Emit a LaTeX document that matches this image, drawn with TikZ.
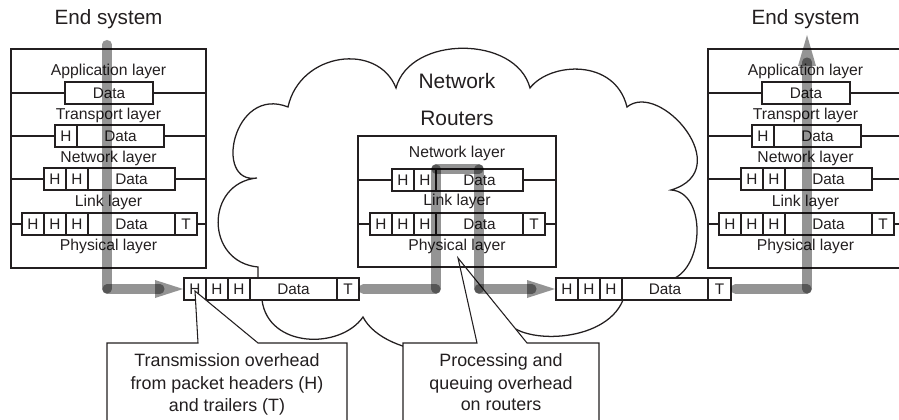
\documentclass[tikz,border=0pt]{standalone}
\usepackage{fontspec}
\setmainfont{Liberation Sans}
\definecolor{ink}{RGB}{35,31,32}
\tikzset{
  frame/.style={draw=ink, line width=1.5pt},
  pbox/.style={draw=ink, fill=white, line width=1.4pt},
  celltxt/.style={font=\fontsize{11.5}{13}\selectfont, text=ink, anchor=base, inner sep=0pt},
  laytxt/.style={font=\fontsize{11.8}{14}\selectfont, text=ink, anchor=base, inner sep=0pt},
  titletxt/.style={font=\fontsize{15.5}{18}\selectfont, text=ink, anchor=base, inner sep=0pt},
  cloudtxt/.style={font=\fontsize{15.7}{18}\selectfont, text=ink, anchor=base, inner sep=0pt},
  notetxt/.style={font=\fontsize{13.4}{16}\selectfont, text=ink, anchor=base, inner sep=0pt},
  cloudline/.style={draw=ink, line width=0.95pt},
  callout/.style={draw=ink, fill=white, line width=0.8pt},
  flow/.style={draw=black, draw opacity=0.42, line width=6.8pt, line cap=round},
  flowhead/.style={fill=black, fill opacity=0.42},
}
\newcommand\pcell[5]{%
  \draw[pbox] (#2,#4-11) rectangle (#3,#4+11);
  \node[celltxt] (#1) at ({(#2+#3)/2},#4+5.4) {#5};}
\newcommand\hostsys[2]{%
  \draw[frame] (11+#2,49) rectangle (206+#2,268);
  \foreach \yy in {93,136,179,224} {\draw[frame] (11+#2,\yy) -- (206+#2,\yy);}
  \node[titletxt] (#1title) at (108.5+#2,25) {End system};
  \node[laytxt] (#1lapp) at (108.5+#2,76) {Application layer};
  \node[laytxt] (#1ltra) at (108.5+#2,119.5) {Transport layer};
  \node[laytxt] (#1lnet) at (108.5+#2,162.5) {Network layer};
  \node[laytxt] (#1llnk) at (108.5+#2,207) {Link layer};
  \node[laytxt] (#1lphy) at (108.5+#2,251) {Physical layer};
  \pcell{#1aD}{65+#2}{153+#2}{93}{Data}
  \pcell{#1tH}{55+#2}{77+#2}{136}{H}
  \pcell{#1tD}{77+#2}{164+#2}{136}{Data}
  \pcell{#1nH1}{44+#2}{66+#2}{179}{H}
  \pcell{#1nH2}{66+#2}{88+#2}{179}{H}
  \pcell{#1nD}{88+#2}{175+#2}{179}{Data}
  \pcell{#1kH1}{22+#2}{44+#2}{224}{H}
  \pcell{#1kH2}{44+#2}{66+#2}{224}{H}
  \pcell{#1kH3}{66+#2}{88+#2}{224}{H}
  \pcell{#1kD}{88+#2}{175+#2}{224}{Data}
  \pcell{#1kT}{175+#2}{197+#2}{224}{T}
}
\begin{document}
\begin{tikzpicture}[x=0.75pt,y=-0.75pt]
\useasboundingbox (0,0) rectangle (899,420);
% cloud
\draw[cloudline] (258,278) -- (258,267)
  .. controls (205,262) and (205,183) .. (257,178)
  .. controls (213,185) and (233,85) .. (288,107)
  .. controls (300,52) and (378,42) .. (396,88)
  .. controls (410,35) and (516,35) .. (530,88)
  .. controls (550,62) and (615,58) .. (627,107)
  .. controls (660,80) and (738,170) .. (671,190)
  .. controls (705,192) and (705,262) .. (675,278);
\draw[cloudline] (262,300)
  .. controls (268,348) and (340,350) .. (363,317)
  .. controls (385,360) and (495,368) .. (505,318)
  .. controls (515,345) and (605,345) .. (623,300);
\node[cloudtxt] (net) at (457,89) {Network};
\node[cloudtxt] (rou) at (457,125.5) {Routers};
% end systems
\hostsys{L}{0}
\hostsys{R}{697}
% router
\draw[frame] (358,136) rectangle (556,267);
\draw[frame] (358,180) -- (556,180);
\draw[frame] (358,224) -- (556,224);
\node[laytxt] (rnet) at (457,158) {Network layer};
\node[laytxt] (rlnk) at (457,206) {Link layer};
\node[laytxt] (rphy) at (457,251) {Physical layer};
\pcell{MnH1}{392}{414}{180}{H}
\pcell{MnH2}{414}{436}{180}{H}
\pcell{MnD}{436}{523}{180}{Data}
\pcell{MkH1}{370}{392}{224}{H}
\pcell{MkH2}{392}{414}{224}{H}
\pcell{MkH3}{414}{436}{224}{H}
\pcell{MkD}{436}{523}{224}{Data}
\pcell{MkT}{523}{545}{224}{T}
% packets in transit
\pcell{PH1}{184}{206}{289}{H}
\pcell{PH2}{206}{228}{289}{H}
\pcell{PH3}{228}{250}{289}{H}
\pcell{PD}{250}{337}{289}{Data}
\pcell{PT}{337}{359}{289}{T}
\pcell{QH1}{556}{578}{289}{H}
\pcell{QH2}{578}{600}{289}{H}
\pcell{QH3}{600}{622}{289}{H}
\pcell{QD}{622}{708}{289}{Data}
\pcell{QT}{708}{731}{289}{T}
% callouts
\draw[callout] (107,425) -- (107,343) -- (198,343) -- (195,291) -- (258,343) -- (347,343) -- (347,425) -- cycle;
\node[notetxt] (n1a) at (227,366) {Transmission overhead};
\node[notetxt] (n1b) at (227,389) {from packet headers (H)};
\node[notetxt] (n1c) at (227,411) {and trailers (T)};
\draw[callout] (403,425) -- (403,343) -- (477,343) -- (458,258) -- (527,343) -- (599,343) -- (599,425) -- cycle;
\node[notetxt] (n2a) at (501,366) {Processing and};
\node[notetxt] (n2b) at (501,389) {queuing overhead};
\node[notetxt] (n2c) at (501,410) {on routers};
\draw[frame] (358,267) -- (556,267);
% data flow
\coordinate (a0) at (107,44.5);
\coordinate (a1) at (107,289);
\coordinate (a2) at (160,289);
\draw[flow] (a0) -- (a1);
\draw[flow] (a1) -- (a2);
\fill[flowhead] (155,280) -- (183,289) -- (155,298) -- cycle;
\coordinate (b0) at (363.5,289);
\coordinate (b1) at (436,289);
\coordinate (b2) at (436,169);
\coordinate (b3) at (479,169);
\coordinate (b4) at (479,289);
\coordinate (b5) at (532,289);
\draw[flow] (b0) -- (b1);
\draw[flow] (b1) -- (b2);
\draw[flow] (b2) -- (b3);
\draw[flow] (b3) -- (b4);
\draw[flow] (b4) -- (b5);
\fill[flowhead] (527,280) -- (555,289) -- (527,298) -- cycle;
\coordinate (c0) at (735.5,289);
\coordinate (c1) at (807,289);
\coordinate (c2) at (807,62);
\draw[flow] (c0) -- (c1);
\draw[flow] (c1) -- (c2);
\fill[flowhead] (798,66) -- (807,35) -- (816,66) -- cycle;
\end{tikzpicture}
\end{document}
